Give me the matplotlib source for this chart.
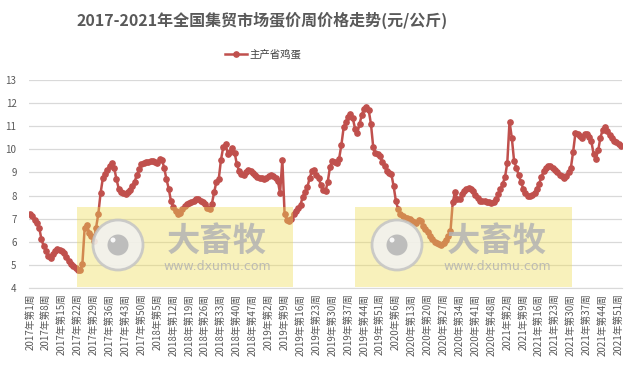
import matplotlib
matplotlib.use("Agg")
import matplotlib.pyplot as plt
from matplotlib.patches import Rectangle, Ellipse

plt.rcParams['font.family'] = ['Noto Sans CJK SC', 'DejaVu Sans']

# weekly egg price, yuan/kg
weeks_per_year = {2017: 52, 2018: 52, 2019: 52, 2020: 53, 2021: 52}
p2017 = [7.2, 7.1, 6.95, 6.8, 6.6, 6.1, 5.8, 5.6, 5.4, 5.3, 5.45, 5.6, 5.7, 5.65, 5.58, 5.5,
         5.32, 5.18, 5.05, 4.95, 4.85, 4.78, 4.78, 5.05, 6.6, 6.74, 6.4, 6.25, 6.05, 6.6, 7.2,
         8.1, 8.75, 8.95, 9.1, 9.3, 9.4, 9.2, 8.7, 8.3, 8.15, 8.1, 8.05, 8.15, 8.25, 8.4, 8.6,
         8.9, 9.15, 9.35, 9.42, 9.45]
p2018 = [9.45, 9.48, 9.48, 9.45, 9.4, 9.58, 9.55, 9.2, 8.7, 8.3, 7.75, 7.5, 7.32, 7.22, 7.24,
         7.4, 7.55, 7.62, 7.68, 7.72, 7.77, 7.85, 7.85, 7.77, 7.7, 7.62, 7.45, 7.4, 7.65, 8.15,
         8.6, 8.7, 9.55, 10.1, 10.25, 9.8, 9.9, 10.05, 9.85, 9.35, 9.05, 8.95, 8.9, 9.0, 9.1,
         9.05, 8.98, 8.9, 8.82, 8.78, 8.75, 8.73]
p2019 = [8.78, 8.83, 8.88, 8.85, 8.76, 8.65, 8.1, 9.55, 7.2, 6.95, 6.9, 7.0, 7.22, 7.35, 7.45,
         7.6, 7.95, 8.15, 8.35, 8.75, 9.05, 9.1, 8.9, 8.75, 8.45, 8.25, 8.18, 8.6, 9.25, 9.5,
         9.45, 9.4, 9.6, 10.2, 10.95, 11.2, 11.4, 11.55, 11.35, 10.9, 10.7, 11.1, 11.5, 11.75,
         11.85, 11.7, 11.1, 10.1, 9.82, 9.8, 9.7, 9.45]
p2020 = [9.3, 9.05, 8.97, 8.92, 8.4, 7.75, 7.4, 7.2, 7.1, 7.05, 7.02, 6.98, 6.92, 6.85, 6.82,
         6.93, 6.9, 6.7, 6.55, 6.42, 6.25, 6.1, 6.0, 5.95, 5.9, 5.88, 5.94, 6.08, 6.25, 6.45,
         7.7, 8.15, 7.85, 7.85, 8.05, 8.18, 8.3, 8.32, 8.3, 8.2, 8.02, 7.88, 7.78, 7.76, 7.75,
         7.72, 7.7, 7.67, 7.72, 7.85, 8.05, 8.28, 8.5]
p2021 = [8.8, 9.4, 11.2, 10.5, 9.5, 9.2, 8.9, 8.6, 8.3, 8.1, 7.98, 7.98, 8.03, 8.12, 8.3, 8.5,
         8.8, 9.05, 9.2, 9.28, 9.27, 9.2, 9.1, 9.0, 8.9, 8.83, 8.78, 8.85, 9.0, 9.2, 9.9, 10.7,
         10.68, 10.58, 10.5, 10.65, 10.68, 10.55, 10.35, 9.8, 9.6, 9.95, 10.5, 10.85, 10.98,
         10.78, 10.62, 10.5, 10.35, 10.3, 10.22, 10.15]

prices = p2017 + p2018 + p2019 + p2020 + p2021
labels = [f'{y}年第{w}周' for y, n in weeks_per_year.items() for w in range(1, n + 1)]
x = list(range(len(prices)))

W, H = 634, 375
fig = plt.figure(figsize=(W / 100, H / 100), dpi=100)
ax = fig.add_axes([29 / W, 1 - 288 / H, 593 / W, 208 / H])

line, = ax.plot(x, prices, color='#C0504D', lw=1.8, marker='o', ms=3.8, label='主产省鸡蛋', zorder=3)

ax.set_ylim(4, 13)
ax.set_xlim(-0.5, len(prices) - 0.5)
ax.set_yticks(range(4, 14))
ax.yaxis.grid(True, color='#d9d9d9', lw=0.9)
ax.set_axisbelow(True)
for s in ['top', 'right', 'left']:
    ax.spines[s].set_visible(False)
ax.spines['bottom'].set_color('#d9d9d9')
ax.tick_params(axis='y', length=0, pad=9, labelsize=7, labelcolor='#595959')
ax.set_xticks(x[::7])
ax.set_xticklabels(labels[::7], rotation=90, fontsize=7, color='#595959')
ax.tick_params(axis='x', length=0, pad=4)

fig.text(262 / W, 1 - 20 / H, '2017-2021年全国集贸市场蛋价周价格走势(元/公斤)', ha='center', va='center',
         fontsize=11.5, fontweight='bold', color='#595959')
fig.legend(handles=[line], loc='center', bbox_to_anchor=(263 / W, 1 - 54 / H), frameon=False,
           fontsize=7.5, handlelength=2.2, handletextpad=0.2, labelcolor='#404040')

# watermark boxes
def fx(px):
    return px / W

def fy(py):
    return 1 - py / H

for bx0, bx1, cx, tx in [(77, 293, 118, 217), (355, 572, 397, 497)]:
    fig.patches.append(Rectangle((fx(bx0), fy(287)), fx(bx1 - bx0), 80 / H, transform=fig.transFigure,
                                 facecolor='#EEDD55', alpha=0.4, edgecolor='none', zorder=5))
    fig.patches.append(Ellipse((fx(cx), fy(245)), 50 / W, 50 / H, transform=fig.transFigure,
                               facecolor='#f2f2f2', edgecolor='#c4c4c4', lw=2, alpha=0.85, zorder=6))
    fig.patches.append(Ellipse((fx(cx), fy(245)), 21 / W, 21 / H, transform=fig.transFigure,
                               facecolor='#b8b8b8', edgecolor='none', alpha=0.9, zorder=7))
    fig.patches.append(Ellipse((fx(cx - 5), fy(240)), 5 / W, 5 / H, transform=fig.transFigure,
                               facecolor='white', edgecolor='none', alpha=0.9, zorder=7))
    fig.text(fx(tx), fy(241), '大畜牧', ha='center', va='center', fontsize=24, fontweight='bold',
             color='#b3b3b3', alpha=0.85, zorder=8)
    fig.text(fx(tx), fy(267), 'www.dxumu.com', ha='center', va='center', fontsize=9,
             color='#b3b3b3', alpha=0.85, zorder=8, family='DejaVu Sans')

fig.savefig('out.png', dpi=100)
